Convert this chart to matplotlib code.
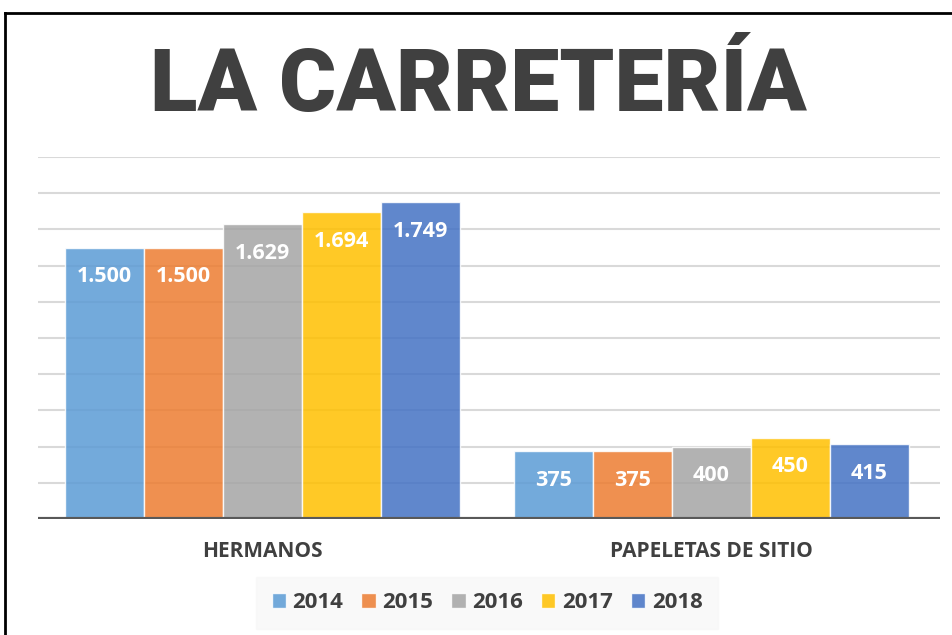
import matplotlib.pyplot as plt
from matplotlib.lines import Line2D
import numpy as np

categories = ['HERMANOS', 'PAPELETAS DE SITIO']
years = ['2014', '2015', '2016', '2017', '2018']
values = {
    '2014': [1500, 375],
    '2015': [1500, 375],
    '2016': [1629, 400],
    '2017': [1694, 450],
    '2018': [1749, 415],
}
colors = ['#5B9BD5', '#ED7D31', '#A5A5A5', '#FFC000', '#4472C4']
title = 'LA CARRETERÍA'

plt.rcParams['font.family'] = ['Open Sans', 'DejaVu Sans']

W, H = 952, 635
fig = plt.figure(figsize=(W / 100, H / 100), dpi=100)
ax = fig.add_axes([38 / W, (H - 519) / H, (940 - 38) / W, (519 - 157) / H])

x = np.arange(len(categories))
bw = 0.176
for i, yr in enumerate(years):
    pos = x + (i - 2) * bw
    bars = ax.bar(pos, values[yr], width=bw, color=colors[i], alpha=0.85,
                  edgecolor='white', linewidth=1, zorder=3, label=yr)
    for b, v in zip(bars, values[yr]):
        txt = f'{v:,}'.replace(',', '.')
        ax.annotate(txt, (b.get_x() + b.get_width() / 2, v), xytext=(0, -21),
                    textcoords='offset points', ha='center', va='center',
                    color='white', fontsize=15.5, fontweight='bold', zorder=4)

ax.set_ylim(0, 2000)
ax.set_xlim(-0.5, 1.51)
ax.set_yticks(np.arange(200, 2001, 200))
ax.yaxis.grid(True, color='#d9d9d9', linewidth=1.5, zorder=0)
ax.set_axisbelow(True)
ax.tick_params(axis='y', left=False, labelleft=False)
for s in ax.spines.values():
    s.set_visible(False)
ax.axhline(0, color='#595959', linewidth=3, zorder=5)
ax.set_xticks(x)
ax.set_xticklabels(categories, fontsize=15, fontweight='bold', color='#404040')
ax.tick_params(axis='x', length=0, pad=16)

fig.text(478 / W, 1 - 87 / H, title, ha='center', va='center',
         fontsize=63, fontweight='black', color='#404040',
         family=['Roboto', 'DejaVu Sans'])

leg = fig.legend(loc='center', bbox_to_anchor=(487 / W, 1 - 603 / H), ncol=5,
                 frameon=True, fancybox=False, handlelength=0.65, handleheight=0.65,
                 handletextpad=0.3, columnspacing=0.8, borderpad=0.7,
                 prop={'size': 16, 'weight': 'bold'})
leg.get_frame().set_facecolor('#f8f8f8')
leg.get_frame().set_edgecolor('#f8f8f8')
for t in leg.get_texts():
    t.set_color('#404040')

# black border on left and top
fig.add_artist(Line2D([5 / W, 5 / W], [0, 1 - 13 / H], color='black', linewidth=2,
                      transform=fig.transFigure))
fig.add_artist(Line2D([5 / W, 1], [1 - 13 / H, 1 - 13 / H], color='black', linewidth=2,
                      transform=fig.transFigure))

fig.savefig('out.png', dpi=100)
